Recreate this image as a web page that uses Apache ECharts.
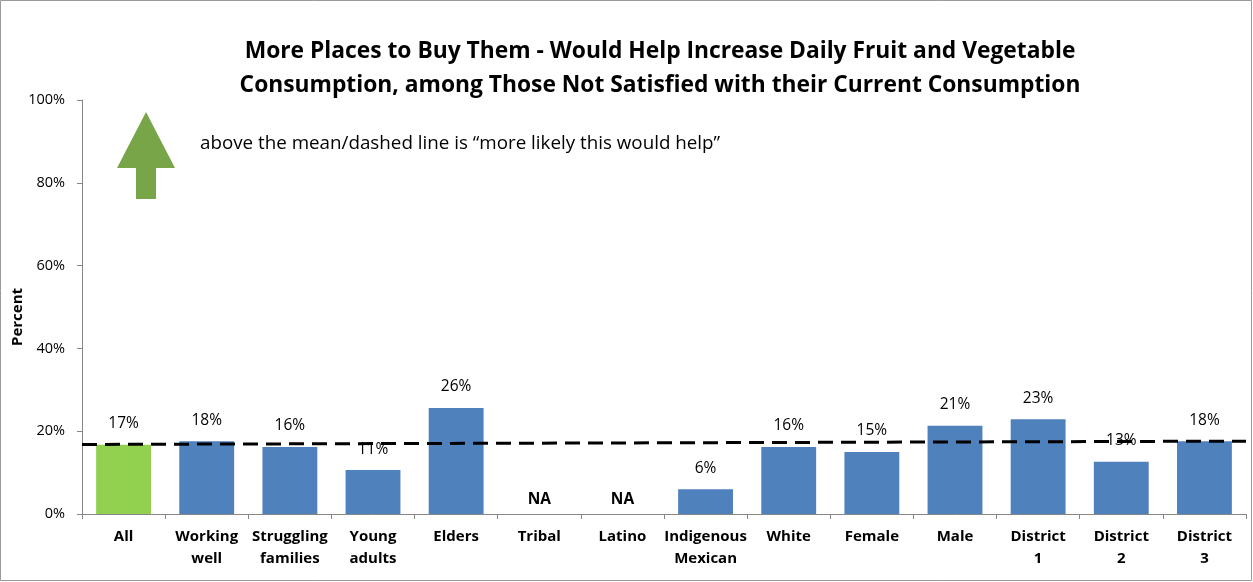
<!DOCTYPE html>
<html><head><meta charset="utf-8">
<script src="https://cdn.jsdelivr.net/npm/echarts@6/dist/echarts.min.js"></script>
<style>html,body{margin:0;padding:0;background:#fff}#c{width:1253px;height:582px}</style>
</head><body><div id="c"></div>
<script>
const categories = ["All","Working\nwell","Struggling\nfamilies","Young\nadults","Elders","Tribal","Latino","Indigenous\nMexican","White","Female","Male","District\n1","District\n2","District\n3"];
const values = [16.7, 17.6, 16.2, 10.6, 25.6, null, null, 6.0, 16.2, 15.0, 21.3, 22.9, 12.6, 17.6];
const valueLabels = ["17%","18%","16%","11%","26%","NA","NA","6%","16%","15%","21%","23%","13%","18%"];
const meanLine = [[0, 16.8], [1, 17.6]];
const yTicks = [0, 20, 40, 60, 80, 100];

const FONT = "'Open Sans', 'Noto Sans', sans-serif";
const chart = echarts.init(document.getElementById('c'), null, {renderer: 'canvas'});
const barData = values.map((v, i) => ({
  value: v === null ? 0 : v,
  itemStyle: {color: i === 0 ? '#92d050' : '#4f81bd'},
  label: v === null ? {fontWeight: 'bold', distance: 6} : {}
}));
chart.setOption({
  animation: false,
  title: {
    text: 'More Places to Buy Them - Would Help Increase Daily Fruit and Vegetable\nConsumption, among Those Not Satisfied with their Current Consumption',
    left: 655, top: 30, textAlign: 'center',
    textStyle: {fontFamily: FONT, fontSize: 22.8, fontWeight: 'bold', color: '#000', lineHeight: 34}
  },
  graphic: [
    {type: 'rect', shape: {x: 0.5, y: 0.5, width: 1251, height: 580}, style: {fill: 'none', stroke: '#9a9a9a', lineWidth: 1}, silent: true},
    {type: 'polygon', shape: {points: [[146, 112], [117, 168], [136, 168], [136, 199], [156, 199], [156, 168], [175, 168]]}, style: {fill: '#77a548'}},
    {type: 'text', left: 200, top: 134, style: {text: 'above the mean/dashed line is \u201cmore likely this would help\u201d', font: '18.8px ' + FONT, fill: '#000'}},
    {type: 'text', left: 10, top: 288, rotation: Math.PI / 2, style: {text: 'Percent', font: 'bold 15px ' + FONT, fill: '#000', textAlign: 'center'}}
  ],
  grid: {left: 82, right: 7, top: 100, bottom: 68, containLabel: false},
  xAxis: [
    {type: 'category', data: categories,
     axisLine: {lineStyle: {color: '#868686'}},
     axisTick: {show: true, alignWithLabel: false, length: 5, lineStyle: {color: '#868686'}},
     axisLabel: {interval: 0, fontFamily: FONT, fontWeight: 'bold', fontSize: 15, color: '#000', lineHeight: 22, margin: 12}},
    {type: 'value', min: 0, max: 1, show: false}
  ],
  yAxis: {
    type: 'value', min: 0, max: 100, interval: 20,
    axisLine: {show: true, lineStyle: {color: '#868686'}},
    axisTick: {show: true, inside: false, length: 5, lineStyle: {color: '#868686'}},
    splitLine: {show: false},
    axisLabel: {formatter: v => v + '%', fontFamily: FONT, fontSize: 14.5, color: '#000', margin: 17}
  },
  series: [
    {type: 'bar', data: barData, barWidth: '66%', xAxisIndex: 0,
     label: {show: true, position: 'top', distance: 13, fontFamily: FONT, fontSize: 15.5, color: '#000',
             formatter: p => valueLabels[p.dataIndex]}},
    {type: 'line', xAxisIndex: 1, data: meanLine, symbol: 'none', z: 5,
     lineStyle: {color: '#000', width: 3, type: [15, 8]}}
  ]
});
</script></body></html>
